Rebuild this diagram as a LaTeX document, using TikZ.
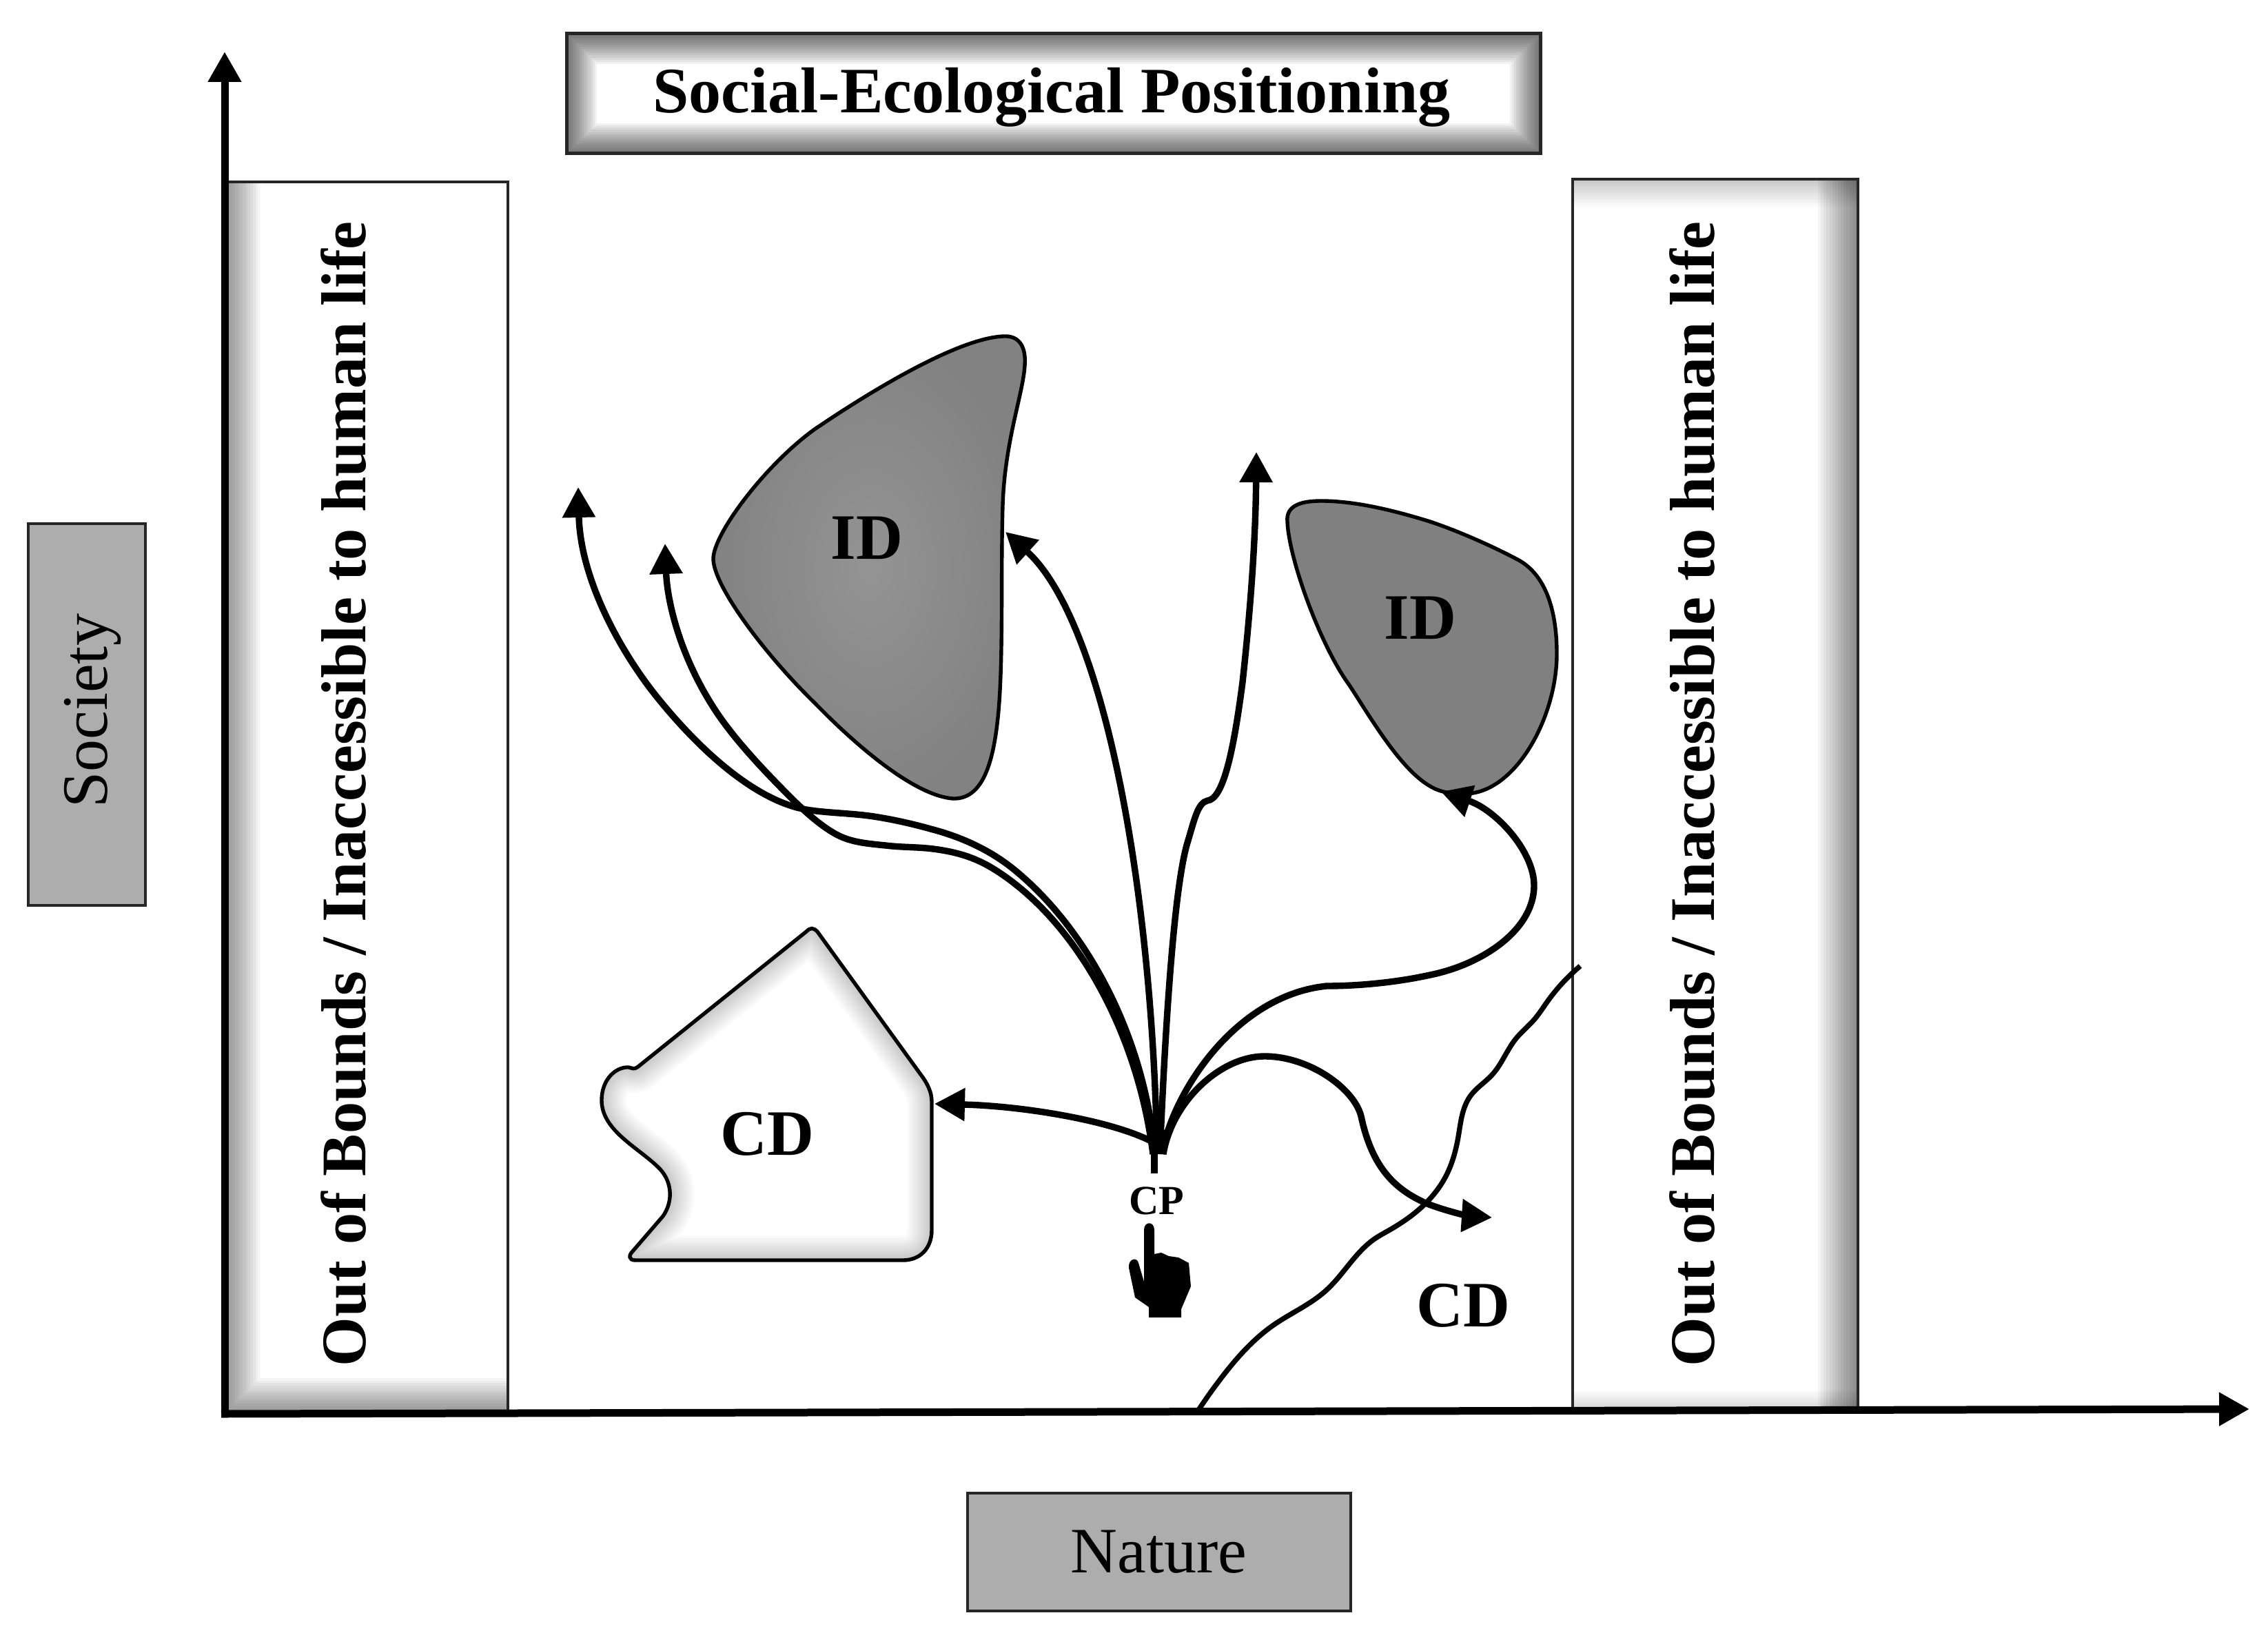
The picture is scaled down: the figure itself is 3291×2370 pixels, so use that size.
\documentclass[tikz,border=0pt]{standalone}
\usepackage{fontspec}
\setmainfont{Liberation Serif}
\usetikzlibrary{arrows.meta,hobby}
\definecolor{boxgray}{HTML}{ADADAD}
\definecolor{edgeline}{HTML}{262626}
\tikzset{
  flowline/.style={line width=4.7pt,-{Triangle[length=22pt,width=23pt]}},
  axisline/.style={line width=5.5pt,-{Triangle[length=22pt,width=23pt]}},
  wavyline/.style={line width=3.7pt,use Hobby shortcut},
  outlinebox/.style={draw=edgeline,line width=2pt},
  shapeedge/.style={draw=black,line width=2.7pt},
  bigbold/.style={font=\fontsize{47}{47}\selectfont\bfseries,inner sep=0pt},
  sideword/.style={font=\fontsize{46.1}{46.1}\selectfont\bfseries,inner sep=0pt,rotate=90,anchor=base west},
  plainword/.style={font=\fontsize{47}{47}\selectfont,inner sep=0pt,anchor=base},
}
% \glowpath{max width in pt}{opacity per step}{path}
\newcommand{\glowpath}[3]{%
  \foreach \glowstep in {1,...,14}{%
    \pgfmathsetmacro{\glowwidth}{#1*\glowstep/14}%
    \draw[black,opacity=#2,line width=\glowwidth pt,line join=round] #3;
  }%
}
\begin{document}
\begin{tikzpicture}[x=.5pt,y=-.5pt]
\useasboundingbox (0,0) rectangle (3291,2370);
\fill[white] (0,0) rectangle (3291,2370);

% ---- title box
\begin{scope}
\clip (822,49) rectangle (2235,223);
\glowpath{44}{.05}{(822,49) rectangle (2235,223)}
\end{scope}
\draw[outlinebox,line width=2.5pt] (822,49) rectangle (2235,223);
\node[font=\fontsize{47}{47}\selectfont\bfseries,inner sep=0pt,anchor=base] (title) at (1526,164) {Social-Ecological Positioning};

% ---- left band
\begin{scope}
\clip (330,264) rectangle (737,2052);
\glowpath{52}{.035}{(326,264) -- (326,2052) -- (737,2052)}
\end{scope}
\draw[outlinebox] (330,2052) -- (330,264) -- (737,264) -- (737,2052);
\node[sideword] (leftword) at (530,1984) {Out of Bounds / Inaccessible to human life};

% ---- right band
\begin{scope}
\clip (2282,260) rectangle (2696,2047);
\glowpath{58}{.04}{(2696,260) -- (2696,2047)}
\glowpath{40}{.014}{(2282,260) -- (2696,260)}
\glowpath{30}{.012}{(2282,2047) -- (2696,2047)}
\end{scope}
\draw[outlinebox] (2282,260) rectangle (2696,2047);
\node[sideword] (rightword) at (2487,1984) {Out of Bounds / Inaccessible to human life};

% ---- axis labels
\node[outlinebox,fill=boxgray,inner sep=0pt,minimum width=85pt,minimum height=277pt] (societybox) at (126,1037) {};
\node[plainword,rotate=90] (society) at (155,1032) {Society};
\node[outlinebox,fill=boxgray,inner sep=0pt,minimum width=278pt,minimum height=85.5pt,font=\fontsize{47}{47}\selectfont] (nature) at (1681.5,2252.5) {Nature};

% ---- axes
\coordinate (origin) at (326,2052);
\coordinate (ytip) at (326,75);
\coordinate (xtip) at (3264,2045);
\draw[axisline] ([yshift=-2.5pt]origin) -- (ytip);
\draw[axisline] ([xshift=-2.5pt]origin) -- (xtip);

% ---- ID regions
\shade[inner color=black!42,outer color=black!49,shapeedge]
 (1035,811) .. controls (1035,775) and (1110,675) .. (1182,623)
 .. controls (1260,570) and (1390,490) .. (1457,488)
 .. controls (1480,487) and (1489,505) .. (1487,530)
 .. controls (1485,570) and (1458,640) .. (1455,733)
 .. controls (1452,830) and (1456,950) .. (1449,1031)
 .. controls (1442,1110) and (1425,1160) .. (1383,1159)
 .. controls (1330,1155) and (1250,1090) .. (1182,1020)
 .. controls (1110,950) and (1035,850) .. (1035,811) -- cycle;
\node[bigbold] (idone) at (1258,781) {ID};

\fill[black!50,shapeedge]
 (1868,757) .. controls (1866,735) and (1885,727) .. (1917,727)
 .. controls (1970,727) and (2030,743) .. (2075,757)
 .. controls (2120,772) and (2170,795) .. (2202,812)
 .. controls (2240,832) and (2259,880) .. (2259,949)
 .. controls (2259,1040) and (2200,1150) .. (2127,1152)
 .. controls (2105,1152) and (2090,1150) .. (2075,1141)
 .. controls (2030,1115) and (1985,1035) .. (1957,993)
 .. controls (1915,935) and (1870,810) .. (1868,757) -- cycle;
\node[bigbold] (idtwo) at (2061,897) {ID};

% ---- CD region
\def\cdoutline{(1170,1352) .. controls (1176,1346) and (1180,1346) .. (1186,1352)
 -- (1340,1565) .. controls (1350,1580) and (1352,1590) .. (1352,1600)
 -- (1352,1785) .. controls (1352,1812) and (1335,1829) .. (1310,1829)
 -- (922,1829) .. controls (912,1829) and (912,1822) .. (918,1816)
 -- (962,1765) .. controls (978,1742) and (975,1712) .. (954,1693)
 .. controls (925,1665) and (873,1640) .. (873,1597)
 .. controls (873,1565) and (895,1548) .. (912,1549)
 .. controls (918,1550) and (919,1553) .. (926,1548) -- cycle}
\begin{scope}
\expandafter\clip\cdoutline;
\glowpath{36}{.016}{\cdoutline}
\end{scope}
\expandafter\draw\expandafter[shapeedge]\cdoutline;
\node[bigbold] (cdleft) at (1113,1646) {CD};
\node[bigbold] (cdright) at (2123,1895) {CD};

% ---- boundary line
\coordinate (wavestart) at (1738,2048);
\coordinate (waveend) at (2293,1402);
\draw[wavyline] (wavestart) .. (1772,2000) .. (1848,1923) .. (1924,1873) .. (1996,1797) .. (2013,1787)
 .. (2067,1748) .. (2098,1707) .. (2116,1650) .. (2134,1590) .. (2165,1560) .. (2200,1507) .. (2226,1480) .. (2245,1454) .. (waveend);

% ---- connectors from the choice point
\coordinate (hubA) at (1673,1675);
\coordinate (hubB) at (1676,1675);
\coordinate (hubC) at (1679,1675);
\coordinate (hubD) at (1683,1675);
\coordinate (hubE) at (1686,1675);
\coordinate (hubF) at (1688,1675);
\coordinate (hubG) at (1672,1657);
\coordinate (stubend) at (1675,1703);
\coordinate (tipone) at (839,707);
\coordinate (tiptwo) at (965,789);
\coordinate (tipthree) at (1459,772);
\coordinate (tipfour) at (1823,656);
\coordinate (tipfive) at (2091,1149);
\coordinate (tipsix) at (2165,1767);
\coordinate (tipseven) at (1356,1602);

\draw[flowline] (hubA) .. controls (1650,1490) and (1555,1330) .. (1440,1260)
 .. controls (1412,1243) and (1385,1236) .. (1354,1232)
 .. controls (1330,1229) and (1310,1230) .. (1285,1227)
 .. controls (1255,1224) and (1232,1222) .. (1210,1209)
 .. controls (1188,1196) and (1168,1178) .. (1147,1157)
 .. controls (1105,1115) and (1065,1072) .. (1038,1031)
 .. controls (985,950) and (968,870) .. (tiptwo);
\draw[flowline] (hubB) .. controls (1660,1500) and (1575,1345) .. (1469,1260)
 .. controls (1435,1233) and (1395,1215) .. (1354,1204)
 .. controls (1325,1196) and (1300,1190) .. (1268,1185)
 .. controls (1235,1180) and (1200,1180) .. (1170,1175)
 .. controls (1100,1163) and (1020,1095) .. (952,1010)
 .. controls (900,945) and (842,840) .. (tipone);
\draw[flowline] (hubC) .. controls (1672,1280) and (1600,900) .. (tipthree);
\draw[flowline] (hubD) .. controls (1688,1560) and (1700,1300) .. (1723,1223)
 .. controls (1733,1190) and (1738,1165) .. (1752,1162)
 .. controls (1775,1160) and (1790,1090) .. (1803,990)
 .. controls (1815,880) and (1822,780) .. (tipfour);
\draw[flowline] (hubE) .. controls (1700,1590) and (1790,1445) .. (1925,1431)
 .. controls (1975,1431) and (2030,1425) .. (2075,1415)
 .. controls (2150,1400) and (2226,1350) .. (2226,1285)
 .. controls (2226,1235) and (2170,1175) .. (tipfive);
\draw[flowline] (hubF) .. controls (1700,1600) and (1770,1533) .. (1835,1533)
 .. controls (1900,1533) and (1965,1580) .. (1975,1620)
 .. controls (1990,1690) and (2020,1725) .. (2071,1747)
 .. controls (2105,1760) and (2135,1765) .. (tipsix);
\draw[flowline] (hubG) .. controls (1610,1625) and (1480,1605) .. (tipseven);
\draw[line width=5pt] (1675,1675) -- (stubend);
\fill (1670,1640) -- (1690,1640) -- (1692,1675) -- (1668,1675) -- cycle;

% ---- choice point
\node[font=\fontsize{30}{30}\selectfont\bfseries,inner sep=0pt] (cp) at (1678,1743) {CP};
\fill[line join=round] (1660,1785) .. controls (1660,1772) and (1675,1772) .. (1675,1785)
 -- (1675,1820) -- (1685,1818) -- (1696,1823) -- (1710,1825) -- (1725,1833) -- (1728,1867)
 -- (1714,1900) -- (1714,1912) -- (1667,1912) -- (1667,1897) -- (1647,1883) -- (1638,1840)
 .. controls (1637,1826) and (1650,1824) .. (1652,1833) -- (1660,1860) -- cycle;
\end{tikzpicture}
\end{document}
